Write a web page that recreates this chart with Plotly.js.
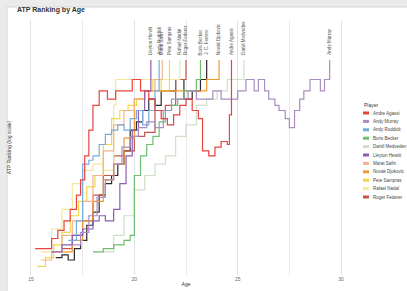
<!DOCTYPE html>
<html><head><meta charset="utf-8">
<script src="https://cdn.plot.ly/plotly-3.0.1.min.js"></script>
<style>html,body{margin:0;padding:0;background:#ebebeb}#chart{width:407px;height:291px}</style>
</head><body><div id="chart"></div><script>
// ---- data (age in years, ATP rank) ----
const playerNames = ["Andre Agassi","Andy Murray","Andy Roddick","Boris Becker","Daniil Medvedev","Lleyton Hewitt","Marat Safin","Novak Djokovic","Pete Sampras","Rafael Nadal","Roger Federer"];
const playerColors = ["#e8443f","#a98cc2","#76abd9","#6dbf6f","#cfe0c9","#8c5db1","#f4b38e","#f29a30","#f4d84a","#f1e89c","#c3564b"];

const agesAgassi = [15.2,15.8,16.0,16.3,16.6,16.9,17.2,17.4,17.6,17.8,18.0,18.3,18.7,19.1,19.5,19.9,20.3,20.7,21.0,21.3,21.6,21.9,22.2,22.5,22.8,23.1,23.3,23.6,23.9,24.2,24.5,24.6,24.7];
const ranksAgassi = [800,800,560,420,300,200,120,70,30,12,5,3,4,3,3,2,3,4,6,8,10,7,5,4,6,8,25,30,22,18,20,7,1];

const agesMurray = [17.0,17.4,17.8,18.2,18.6,19.0,19.4,19.8,20.2,20.6,21.0,21.4,21.8,22.2,22.6,23.0,23.4,23.8,24.2,24.6,25.0,25.4,25.8,26.0,26.3,26.5,26.8,27.0,27.3,27.5,27.75,28.0,28.2,28.5,28.8,29.0,29.2,29.45];
const ranksMurray = [700,450,250,130,70,40,22,15,11,9,11,6,4,4,3,4,4,3,4,4,3,2,3,2,3,4,5,6,8,11,6,4,3,2,2,3,2,1];

const agesRoddick = [16.8,17.2,17.5,17.8,18.0,18.3,18.6,18.9,19.2,19.5,19.8,20.1,20.4,20.7,21.0,21.2];
const ranksRoddick = [600,300,40,35,30,20,14,12,10,12,8,6,10,6,3,1];

const agesBecker = [18.0,18.5,19.0,19.5,19.8,20.0,20.3,20.6,20.9,21.2,21.5,21.8,22.1,22.4,22.7,23.0,23.2];
const ranksBecker = [900,800,700,600,500,60,30,20,15,9,6,5,4,3,3,2,1];

const agesMedvedev = [18.5,19.0,19.5,20.0,20.5,21.0,21.5,22.0,22.5,23.0,23.5,24.0,24.5,25.0,25.3];
const ranksMedvedev = [900,500,250,100,60,40,30,15,10,5,4,3,2,2,1];

const agesHewitt = [16.0,16.5,17.0,17.5,18.0,18.3,18.6,19.0,19.3,19.6,19.9,20.2,20.5,20.8];
const ranksHewitt = [900,700,500,400,300,250,300,200,80,30,12,6,3,1];

const agesSafin = [15.5,16.0,16.5,17.0,17.5,18.0,18.5,19.0,19.5,20.0,20.5,21.0,21.35];
const ranksSafin = [1200,900,500,300,150,60,25,10,6,4,3,2,1];

const agesDjokovic = [16.5,17.0,17.5,18.0,18.5,19.0,19.5,20.0,20.5,21.0,22.0,23.0,23.5,24.0,24.1];
const ranksDjokovic = [900,600,300,150,70,40,16,4,3,3,3,3,2,2,1];

const agesSampras = [15.3,15.7,16.1,16.5,16.9,17.3,17.7,18.1,18.5,18.9,19.3,19.7,20.1,20.5,20.9,21.3,21.7];
const ranksSampras = [1500,1100,700,450,250,150,90,60,20,8,6,5,4,3,2,3,1];

const agesNadal = [15.5,16.0,16.5,17.0,17.5,18.0,18.5,19.0,19.1,22.2];
const ranksNadal = [900,400,200,80,50,40,50,5,2,1];

const agesFederer = [16.5,17.0,17.5,18.0,18.5,19.0,19.5,20.0,20.5,21.0,21.5,22.0,22.5];
const ranksFederer = [800,500,300,120,60,30,25,15,13,6,5,2,1];

const agesOther = [16.2,16.5,16.8,17.1,17.4,17.7,18.0,18.3,18.6,18.9,19.2,19.5,19.8,20.1,20.4,20.7,21.0,21.3,21.6,22.0,22.4,22.8,23.2,23.5];
const ranksOther = [1100,1000,1200,800,600,350,220,120,80,60,40,25,12,9,6,4,5,3,3,2,4,3,2,1];
const otherName = "J. C. Ferrero";
const otherColor = "#2b2b2b";

const xTickVals = [15,20,25,30];
const xTickText = ["15","20","25","30"];

const allAges = [agesAgassi,agesMurray,agesRoddick,agesBecker,agesMedvedev,agesHewitt,agesSafin,agesDjokovic,agesSampras,agesNadal,agesFederer];
const allRanks = [ranksAgassi,ranksMurray,ranksRoddick,ranksBecker,ranksMedvedev,ranksHewitt,ranksSafin,ranksDjokovic,ranksSampras,ranksNadal,ranksFederer];

// ---- traces ----
const traces = [];
traces.push({x: agesOther, y: ranksOther, name: otherName, type:'scatter', mode:'lines',
  line:{shape:'hv', color: otherColor, width:1.2}, showlegend:false});
for (let i = allAges.length - 1; i >= 0; i--) {
  traces.push({x: allAges[i], y: allRanks[i], name: playerNames[i], type:'scatter', mode:'lines',
    line:{shape:'hv', color: playerColors[i], width:1.2}, showlegend:false});
}

// ---- layout geometry ----
const W = 407, H = 291;
const mL = 20, mR = 55, mT = 20, mB = 16;
const pw = W - mL - mR, ph = H - mT - mB;
const px2paper = px => (px - mL) / pw;
const py2paper = py => (H - mB - py) / ph;

const shapes = [{type:'rect', xref:'paper', yref:'paper', layer:'below',
  x0: px2paper(7), x1: px2paper(410), y0: py2paper(295), y1: py2paper(7),
  fillcolor:'#ffffff', line:{color:'#d6d6d6', width:1}}];
const annotations = [];

// labels at the point each player reaches #1
const lastAges = allAges.map(a => a[a.length-1]).concat([agesOther[agesOther.length-1]]);
const labelNames = playerNames.concat([otherName]);
lastAges.forEach((a, i) => {
  annotations.push({x: a, y: 0, xref:'x', yref:'y', text: labelNames[i], textangle:-90,
    showarrow:false, xanchor:'center', yanchor:'bottom', yshift:3,
    font:{size:4.5, color:'#555', family:'Liberation Sans, Arial, sans-serif'}});
});

// legend built from names and colours
annotations.push({x: px2paper(362), y: py2paper(105), xref:'paper', yref:'paper', text:'Player',
  showarrow:false, xanchor:'left', yanchor:'middle', font:{size:5, color:'#333'}});
playerNames.forEach((n, i) => {
  const py = 113 + i * 8.4;
  shapes.push({type:'line', xref:'paper', yref:'paper', x0: px2paper(363), x1: px2paper(369),
    y0: py2paper(py), y1: py2paper(py), line:{color: playerColors[i], width:3}});
  annotations.push({x: px2paper(371), y: py2paper(py), xref:'paper', yref:'paper', text: n,
    showarrow:false, xanchor:'left', yanchor:'middle', font:{size:4.5, color:'#444'}});
});

// subtitle
annotations.push({x: 17/W, y: 1 - 20/H, xref:'container', yref:'container',
  text:'All players having reached the #1 ranking, by age', showarrow:false,
  xanchor:'left', yanchor:'middle', font:{size:5, color:'#444'}});

const layout = {
  width: W, height: H,
  margin:{l:mL, r:mR, t:mT, b:mB, pad:0},
  paper_bgcolor:'#ebebeb', plot_bgcolor:'rgba(0,0,0,0)',
  font:{family:'Liberation Sans, Arial, sans-serif', color:'#444'},
  title:{text:'<b>ATP Ranking by Age</b>', x: 17/W, xref:'container', xanchor:'left',
    y: 1 - 10/H, yref:'container', yanchor:'middle', font:{size:7, color:'#333'}},
  showlegend:false,
  xaxis:{range:[14.47, 30.53], tickmode:'array', tickvals: xTickVals, ticktext: xTickText,
    showgrid:true, gridcolor:'#e2e2e2', gridwidth:1, zeroline:false, showline:false,
    ticks:'', tickfont:{size:5, color:'#666'},
    minor:{tick0:15, dtick:2.5, showgrid:true, gridcolor:'#e9e9e9', gridwidth:1},
    title:{text:'Age', font:{size:5, color:'#333'}, standoff:1}},
  yaxis:{type:'log', autorange:false, range:[3.31, -0.615], showgrid:false, zeroline:false,
    showline:false, showticklabels:false, ticks:'',
    title:{text:'ATP Ranking (log scale)', font:{size:5, color:'#333'}, standoff:7}},
  shapes: shapes,
  annotations: annotations
};

Plotly.newPlot('chart', traces, layout, {displayModeBar:false, staticPlot:true});
</script></body></html>
